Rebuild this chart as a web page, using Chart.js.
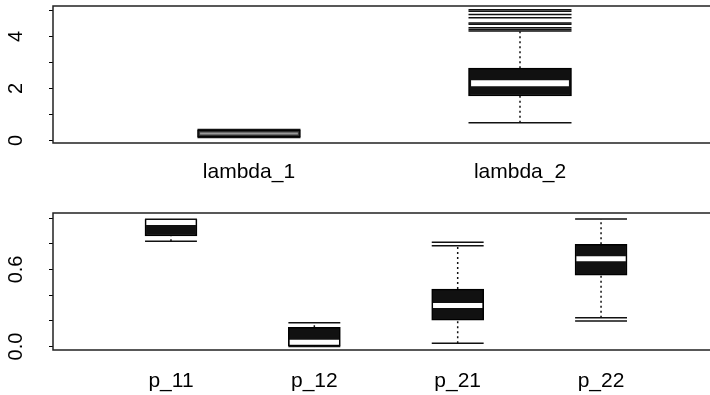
<!DOCTYPE html>
<html>
<head>
<meta charset="utf-8">
<script src="https://cdn.jsdelivr.net/npm/chart.js@4"></script>
<style>
  html, body { margin: 0; padding: 0; background: #fff; overflow: hidden; }
  canvas { position: absolute; left: 0; }
  #top { top: 0; }
  #bottom { top: 197px; }
</style>
</head>
<body>
<canvas id="top" width="710" height="197"></canvas>
<canvas id="bottom" width="710" height="198"></canvas>
<script>
// top panel: lambda
const topLabels = ['lambda_1', 'lambda_2'];
const topLo  = [0.12, 0.68];
const topQ1  = [0.14, 1.71];
const topMed = [0.27, 2.20];
const topQ3  = [0.40, 2.78];
const topHi  = [0.42, 4.21];
const topOut = [[], [4.27, 4.33, 4.47, 4.52, 4.72, 4.84, 4.97, 5.03]];
const topYLabeled = [0, 2, 4];

// bottom panel: transition probs
const botLabels = ['p_11', 'p_12', 'p_21', 'p_22'];
const botLo  = [0.82, 0.0, 0.025, 0.224];
const botQ1  = [0.86, 0.0, 0.206, 0.556];
const botMed = [0.965, 0.033, 0.32, 0.683];
const botQ3  = [0.99, 0.15, 0.447, 0.795];
const botHi  = [0.99, 0.185, 0.784, 0.992];
const botOut = [[], [], [0.811], [0.198]];
const botYLabeled = [0, 0.6];

const FONT = 'Liberation Sans, Arial, Helvetica, sans-serif';

const framePlugin = {
  id: 'frame',
  afterDatasetsDraw(chart) {
    const { ctx, chartArea: a } = chart;
    ctx.save();
    ctx.strokeStyle = '#222';
    ctx.lineWidth = 1.5;
    ctx.beginPath();
    ctx.moveTo(a.right, a.top);
    ctx.lineTo(a.left, a.top);
    ctx.lineTo(a.left, a.bottom);
    ctx.lineTo(a.right, a.bottom);
    ctx.stroke();
    ctx.restore();
  }
};

function boxDatasets(labels, lo, q1, med, q3, hi, out, half, barPx, fills, medColors, medWidths) {
  const ds = [];
  const seg = (x0, y0, x1, y1, extra) => ds.push(Object.assign({
    type: 'line',
    data: [{ x: x0, y: y0 }, { x: x1, y: y1 }],
    borderColor: '#111',
    borderWidth: 1.5,
    pointRadius: 0,
    order: 1
  }, extra));

  labels.forEach((_, i) => {
    const x = i + 1;
    seg(x, q3[i], x, hi[i], { borderDash: [2, 3] });
    seg(x, lo[i], x, q1[i], { borderDash: [2, 3] });
    seg(x - half, hi[i], x + half, hi[i]);
    seg(x - half, lo[i], x + half, lo[i]);
    out[i].forEach(v => seg(x - half, v, x + half, v, { borderWidth: 1.5 }));
    seg(x - half * 0.95, med[i], x + half * 0.95, med[i],
      { borderColor: medColors[i], borderWidth: medWidths[i], order: 0 });
  });

  ds.push({
    type: 'bar',
    data: labels.map((_, i) => ({ x: i + 1, y: [q1[i], q3[i]] })),
    backgroundColor: fills,
    borderColor: '#000',
    borderWidth: 1.5,
    borderSkipped: false,
    barThickness: barPx,
    order: 2
  });
  return ds;
}

function makeChart(id, labels, datasets, xMin, xMax, yMin, yMax, step, yLabeled, fmt, padTop, xAxisH, xPad, yPad) {
  return new Chart(document.getElementById(id), {
    type: 'scatter',
    data: { datasets },
    plugins: [framePlugin],
    options: {
      responsive: false,
      animation: false,
      layout: { padding: { top: padTop, left: 0, right: 0, bottom: 0 } },
      plugins: { legend: { display: false }, tooltip: { enabled: false } },
      scales: {
        x: {
          type: 'linear',
          min: xMin,
          max: xMax,
          offset: false,
          afterBuildTicks: s => { s.ticks = labels.map((_, i) => ({ value: i + 1 })); },
          afterFit: s => { s.height = xAxisH; s.paddingLeft = 0; s.paddingRight = 0; },
          grid: { display: false, drawTicks: false },
          border: { display: false },
          ticks: {
            autoSkip: false,
            maxRotation: 0,
            padding: xPad,
            color: '#000',
            font: { family: FONT, size: 21 },
            callback: v => labels[Math.round(v) - 1] || ''
          }
        },
        y: {
          min: yMin,
          max: yMax,
          afterFit: s => { s.width = 53; s.paddingTop = 0; s.paddingBottom = 0; },
          grid: { drawOnChartArea: false, drawTicks: true, tickLength: 4, color: '#000', lineWidth: 1 },
          border: { display: false },
          ticks: {
            stepSize: step,
            includeBounds: false,
            autoSkip: false,
            minRotation: 90,
            maxRotation: 90,
            crossAlign: 'center',
            padding: yPad,
            color: '#000',
            font: { family: FONT, size: 20 },
            callback: v => yLabeled.some(t => Math.abs(t - v) < 1e-6) ? fmt(v) : ''
          }
        }
      }
    }
  });
}

makeChart('top', topLabels,
  boxDatasets(topLabels, topLo, topQ1, topMed, topQ3, topHi, topOut, 0.19, 103,
    ['#3c3c3c', '#111'], ['#999', '#fff'], [2, 6]),
  0.277, 2.701, -0.096, 5.17, 1, topYLabeled, v => String(Math.round(v)), 6, 54, 17, 27);

makeChart('bottom', botLabels,
  boxDatasets(botLabels, botLo, botQ1, botMed, botQ3, botHi, botOut, 0.181, 52,
    '#111', ['#fff', '#fff', '#fff', '#fff'], [5, 5, 5, 5]),
  0.177, 4.76, -0.027, 1.039, 0.2, botYLabeled, v => v.toFixed(1), 16, 45, 19, 19);
</script>
</body>
</html>
